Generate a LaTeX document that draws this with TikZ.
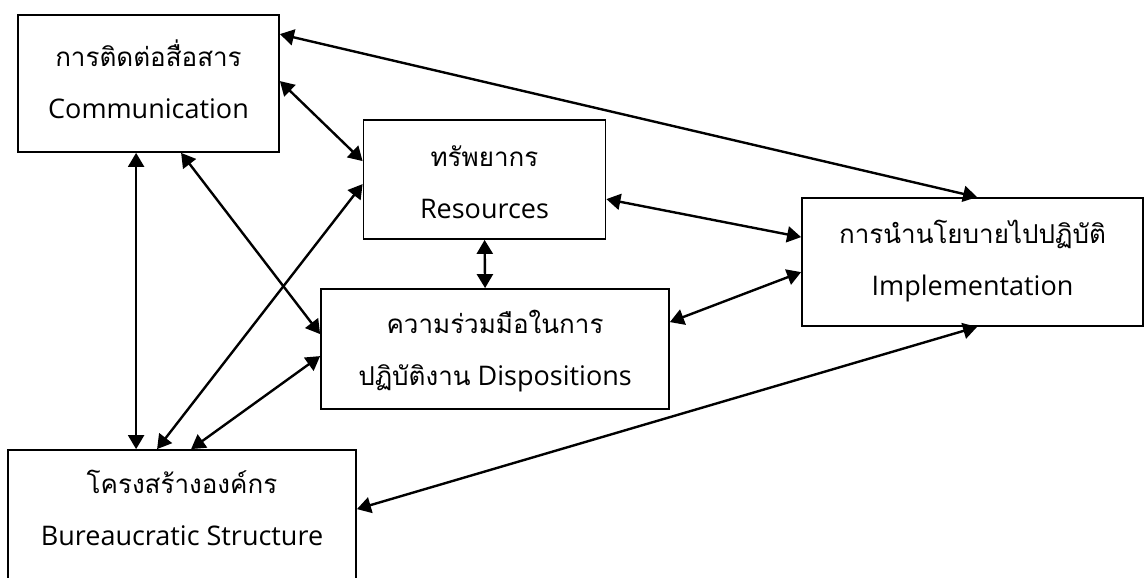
\documentclass[tikz,border=0pt]{standalone}
\usepackage{fontspec}
\setmainfont{Open Sans}
\newfontfamily\thai[Script=Thai]{Loma}
\usetikzlibrary{arrows.meta}
\begin{document}
\begin{tikzpicture}[x=1pt,y=-1pt,
  box/.style={draw,line width=1.8pt,rectangle,inner sep=0pt},
  txt/.style={inner sep=0pt,align=center,font=\fontsize{27}{52}\selectfont},
  link/.style={line width=2.4pt,{Triangle[length=14pt,width=16pt]}-{Triangle[length=14pt,width=16pt]}}]
\useasboundingbox (0,0) rectangle (1146,578);
\newcommand\tht[1]{{\fontsize{26}{52}\selectfont\thai #1}}
\node[box,minimum width=261pt,minimum height=137pt] (comm) at (148.5,83.5) {};
\node[box,minimum width=242pt,minimum height=119pt] (res) at (484.5,179.5) {};
\node[box,minimum width=348pt,minimum height=120pt] (disp) at (495,349) {};
\node[box,minimum width=341pt,minimum height=128pt] (impl) at (972.5,262) {};
\node[box,minimum width=348pt,minimum height=170pt] (bur) at (182,535) {};
\node[txt] (commt) at (148.5,79) {\tht{การติดต่อสื่อสาร}\\Communication};
\node[txt] (rest) at (484.5,182) {\tht{ทรัพยากร}\\Resources};
\node[txt] (dispt) at (495,351) {\tht{ความร่วมมือในการ}\\\tht{ปฏิบัติงาน} Dispositions};
\node[txt] (implt) at (972.5,261) {\tht{การนำนโยบายไปปฏิบัติ}\\Implementation};
\node[txt] (burt) at (182,508) {\tht{โครงสร้างองค์กร}\\Bureaucratic Structure};
\draw[link] ([yshift=-20pt]comm.north east) -- ([xshift=176pt]impl.north west);
\draw[link] ([yshift=-67pt]comm.north east) -- ([yshift=-42pt]res.north west);
\draw[link] ([xshift=119pt]comm.south west) -- ([xshift=129pt]bur.north west);
\draw[link] ([xshift=164pt]comm.south west) -- ([yshift=-46pt]disp.north west);
\draw[link] ([xshift=150pt]bur.north west) -- ([yshift=-65pt]res.north west);
\draw[link] ([xshift=184pt]bur.north west) -- ([yshift=-68pt]disp.north west);
\draw[link] ([yshift=-80pt]res.north east) -- ([yshift=-40pt]impl.north west);
\draw[link] ([xshift=122pt]res.south west) -- ([xshift=165pt]disp.north west);
\draw[link] ([yshift=-34pt]disp.north east) -- ([yshift=-75pt]impl.north west);
\draw[link] ([yshift=-60pt]bur.north east) -- ([xshift=176pt]impl.south west);
\end{tikzpicture}
\end{document}
